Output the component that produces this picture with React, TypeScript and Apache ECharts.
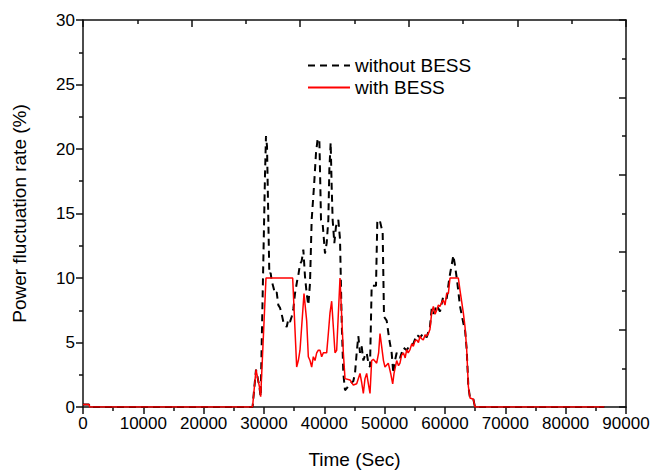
import React, { useEffect, useRef } from "react";
import * as echarts from "echarts";

// Time stamps (s) and power fluctuation rate (%) without the battery system
const withoutTime = [
  0, 1000, 1100, 28100, 28674, 29227, 29450, 29750, 30000, 30166, 30330, 30500, 30718, 30884,
  31100, 31270, 31547, 31823, 32100, 32376, 32652, 32930, 33205, 33500, 33757, 34033, 34310,
  34586, 34862, 35138, 35500, 35690, 35967, 36243, 36520, 36796, 37072, 37348, 37625, 37900,
  38288, 38620, 38895, 39172, 39282, 39448, 39724, 40110, 40387, 40663, 40830, 41050, 41216,
  41380, 41658, 41934, 42320, 42600, 42873, 43150, 43426, 43800, 44255, 44800, 45083, 45360,
  45636, 45912, 46190, 46465, 46740, 47017, 47300, 47570, 47846, 48565, 48785, 49228, 49670,
  49890, 50332, 50775, 51160, 51437, 51714, 51990, 52540, 53100, 53650, 54200, 54750, 55300,
  55860, 56400, 56960, 57500, 57790, 58070, 58620, 59170, 59720, 60280, 60720, 61100, 61380,
  61650, 62000, 62490, 63040, 63320, 63590, 63870, 64145, 64700, 64970, 86400,
];
const withoutRate = [
  0.2, 0.2, 0, 0, 2.9, 1.6, 0.8, 8, 14, 18, 21, 20.2, 14.5, 10.3,
  10.4, 9.8, 9.3, 8.8, 8.9, 7.9, 7.7, 7.2, 6.6, 6.4, 6.2, 6.8, 6.6,
  7.0, 7.6, 8.8, 9.8, 10.2, 11.1, 11.3, 12.2, 10.1, 8.8, 7.9, 9.6, 14.5,
  17.1, 19.7, 20.8, 20.7, 18.4, 14.5, 14.2, 11.9, 12.7, 14.5, 18.4, 20.5, 17.1,
  14.5, 12.7, 14.0, 14.5, 13.0, 6.7, 2.6, 1.3, 1.5, 1.8, 2.0, 2.6, 4.2,
  5.5, 4.2, 4.7, 3.6, 4.0, 4.2, 3.4, 3.1, 9.4, 9.4, 14.5, 14.4, 13.5,
  7.0, 6.7, 5.2, 4.2, 2.6, 3.6, 4.2, 3.8, 4.6, 4.4, 4.8, 4.9, 5.6,
  5.4, 5.7, 5.4, 6.2, 7.6, 7.2, 7.9, 7.4, 8.6, 8.4, 10.0, 11.0, 11.75,
  11.0, 9.8, 7.8, 6.5, 6.0, 4.5, 1.6, 0.7, 0.6, 0, 0,
];

// Time stamps (s) and power fluctuation rate (%) with the battery system
const withTime = [
  0, 1000, 1100, 28100, 28674, 29227, 29450, 30330, 34752, 35415, 35690, 35967, 36630,
  37072, 37348, 37625, 37900, 38177, 38453, 38730, 39000, 39282, 39558, 39835, 40387,
  40663, 40940, 41216, 41492, 41768, 42045, 42597, 43150, 43426, 44255, 44807, 45360,
  45912, 46190, 46465, 46740, 47017, 47300, 47570, 47846, 48122, 48675, 49000, 49228,
  49500, 49800, 50050, 50600, 51000, 51330, 51550, 51990, 52300, 52540, 52800, 53100,
  53400, 53650, 53900, 54200, 54500, 54750, 55000, 55300, 55600, 55860, 56100, 56400,
  56700, 56960, 57250, 57500, 57790, 58070, 58350, 58620, 58900, 59170, 59450, 59720,
  60000, 60280, 60560, 60830, 62210, 62500, 63040, 63320, 63590, 63870, 64145, 64700,
  64970, 86400,
];
const withRate = [
  0.2, 0.2, 0, 0, 2.9, 1.6, 0.8, 10, 10, 3.1, 3.6, 4.4, 8.8,
  6.7, 3.9, 3.6, 3.1, 3.9, 3.6, 4.2, 4.4, 4.4, 3.9, 4.2, 4.2,
  5.7, 7.3, 8.2, 6.2, 4.2, 4.4, 10, 4.2, 2.2, 2.1, 1.7, 1.8,
  2.6, 1.9, 1.05, 2.2, 2.6, 1.8, 1.05, 3.6, 3.7, 3.4, 4.2, 5.7,
  4.7, 3.6, 3.1, 3.4, 2.6, 1.8, 2.6, 3.6, 3.2, 3.4, 4.0, 4.2,
  3.8, 4.45, 4.2, 4.45, 4.9, 4.7, 5.1, 5.2, 5.0, 5.5, 5.3, 5.2,
  5.6, 5.5, 5.7, 6.0, 7.3, 7.8, 7.2, 7.5, 7.9, 7.8, 8.1, 8.3,
  7.9, 8.8, 8.8, 10, 10, 9.0, 7.3, 6.2, 4.5, 1.6, 0.7, 0.6,
  0, 0,
];

const seriesNames = ["without BESS", "with BESS"];

const FONT = "'Liberation Sans', Arial, sans-serif";
const INK = "#111";

const zip = (xs: number[], ys: number[]) => xs.map((x, i) => [x, ys[i]]);
const plain = (v: number) => String(v);

export default function App() {
  const ref = useRef<HTMLDivElement>(null);

  useEffect(() => {
    if (!ref.current) return;
    const chart = echarts.init(ref.current, null, { renderer: "svg" });

    const lineStyle = { color: INK, width: 1.5 };
    const label = { fontFamily: FONT, fontSize: 17, color: "#000", formatter: plain };

    chart.setOption({
      animation: false,
      backgroundColor: "#fff",
      textStyle: { fontFamily: FONT },
      grid: { left: 83, right: 32, top: 20, bottom: 66, outerBoundsMode: "none" },
      legend: {
        data: seriesNames,
        orient: "vertical",
        left: 302,
        top: 51,
        itemWidth: 42,
        itemHeight: 14,
        itemGap: 3,
        itemStyle: { opacity: 0 },
        textStyle: { fontFamily: FONT, fontSize: 19, color: "#000" },
      },
      xAxis: [
        {
          type: "value",
          position: "bottom",
          min: 0,
          max: 90000,
          interval: 10000,
          name: "Time (Sec)",
          nameLocation: "middle",
          nameGap: 43,
          nameTextStyle: { fontFamily: FONT, fontSize: 19, color: "#000" },
          axisLine: { show: true, onZero: false, lineStyle },
          axisTick: { show: true, inside: false, length: 7, lineStyle },
          minorTick: { show: true, splitNumber: 2, length: 4, lineStyle },
          axisLabel: { ...label, margin: 8 },
          splitLine: { show: false },
        },
        {
          type: "value",
          position: "top",
          min: 0,
          max: 90000,
          interval: 18000,
          axisLine: { show: true, onZero: false, lineStyle },
          axisTick: { show: true, inside: true, length: 7, lineStyle },
          minorTick: { show: true, splitNumber: 2, length: 4, lineStyle },
          axisLabel: { show: false },
          splitLine: { show: false },
        },
      ],
      yAxis: [
        {
          type: "value",
          position: "left",
          min: 0,
          max: 30,
          interval: 5,
          name: "Power fluctuation rate (%)",
          nameLocation: "middle",
          nameGap: 54,
          nameRotate: 90,
          nameTextStyle: { fontFamily: FONT, fontSize: 19, color: "#000" },
          axisLine: { show: true, onZero: false, lineStyle },
          axisTick: { show: true, inside: false, length: 7, lineStyle },
          minorTick: { show: true, splitNumber: 2, length: 4, lineStyle },
          axisLabel: { ...label, margin: 8 },
          splitLine: { show: false },
        },
        {
          type: "value",
          position: "right",
          min: 0,
          max: 30,
          interval: 6,
          axisLine: { show: true, onZero: false, lineStyle },
          axisTick: { show: true, inside: true, length: 7, lineStyle },
          minorTick: { show: true, splitNumber: 2, length: 4, lineStyle },
          axisLabel: { show: false },
          splitLine: { show: false },
        },
      ],
      series: [
        {
          name: seriesNames[0],
          type: "line",
          xAxisIndex: 0,
          yAxisIndex: 0,
          data: zip(withoutTime, withoutRate),
          symbol: "none",
          color: "#000",
          lineStyle: { color: "#000", width: 2, type: [7, 5] },
          z: 2,
        },
        {
          name: seriesNames[1],
          type: "line",
          xAxisIndex: 0,
          yAxisIndex: 0,
          data: zip(withTime, withRate),
          symbol: "none",
          color: "#ff0000",
          lineStyle: { color: "#ff0000", width: 1.5 },
          z: 3,
        },
      ],
    });

    return () => chart.dispose();
  }, []);

  return (
    <div
      ref={ref}
      style={{ position: "fixed", left: 0, top: 0, width: 658, height: 473 }}
    />
  );
}
